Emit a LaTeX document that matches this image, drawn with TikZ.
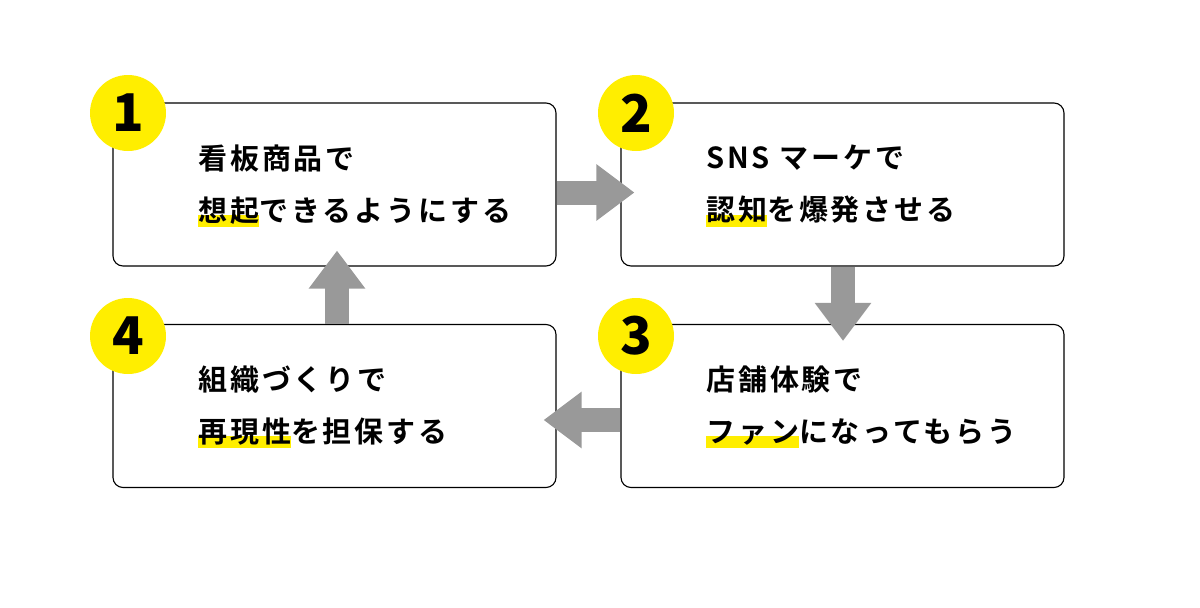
\documentclass[tikz,border=0pt]{standalone}
\usepackage{fontspec}
\setmainfont{Noto Sans CJK JP Bold}[LetterSpace=10]
\newfontfamily\numf{Noto Sans CJK JP Black}
\usetikzlibrary{calc,arrows.meta}
\definecolor{hly}{HTML}{FFEE00}
\definecolor{arr}{HTML}{999999}
\newcommand\myhl[1]{\setbox0\hbox{#1}\rlap{\color{hly}\rule[-6pt]{\wd0}{12pt}}\box0}
\begin{document}
\begin{tikzpicture}[x=1pt,y=-1pt,
  box/.style={draw=black,line width=1.1pt,rounded corners=10pt,minimum width=443pt,minimum height=163pt,inner sep=0pt},
  num/.style={circle,fill=hly,minimum size=76pt,inner sep=0pt,font=\numf\fontsize{52}{52}\selectfont},
  txt/.style={anchor=west,align=left,inner sep=0pt,font=\fontsize{29}{52}\selectfont},
  blk/.style={draw=arr,line width=24pt,-{Triangle[length=38pt,width=54pt]}}]
\useasboundingbox (0,0) rectangle (1200,608);
\node[box] (b1) at (334.5,184.5) {};
\node[box] (b2) at (842.5,184.5) {};
\node[box] (b3) at (842.5,406) {};
\node[box] (b4) at (334.5,406) {};
\node[num] (n1) at (128,113) {1};
\node[num] (n2) at (636,113) {2};
\node[num] (n3) at (636,336) {3};
\node[num] (n4) at (128,336) {4};
\node[txt] (t1) at (198,186) {看板商品で\\\myhl{想起}できるようにする};
\node[txt] (t2) at (706,186) {SNS マーケで\\\myhl{認知}を爆発させる};
\node[txt] (t3) at (706,407) {店舗体験で\\\myhl{ファン}になってもらう};
\node[txt] (t4) at (198,407) {組織づくりで\\\myhl{再現性}を担保する};
\draw[blk] ($(b1.east)+(0,8)$) -- ($(b2.west)+(14,8)$);
\draw[blk] ($(b2.south)+(0.5,0)$) -- ($(b3.north)+(0.5,17)$);
\draw[blk] ($(b3.west)+(0,14)$) -- ($(b4.east)+(-13,14)$);
\draw[blk] ($(b4.north)+(2.5,0)$) -- ($(b1.south)+(2.5,-16)$);
\end{tikzpicture}
\end{document}
